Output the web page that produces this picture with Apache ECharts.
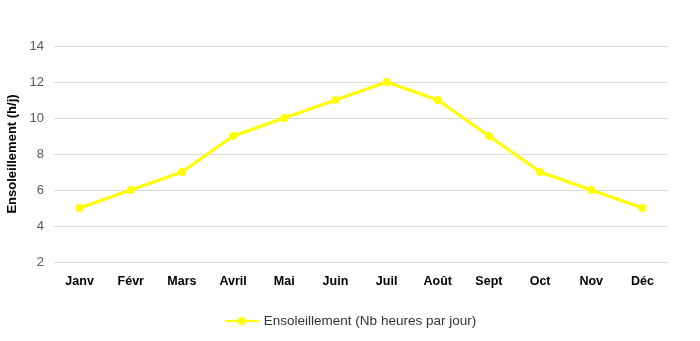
<!DOCTYPE html>
<html><head><meta charset="utf-8">
<script src="https://cdn.jsdelivr.net/npm/echarts@6/dist/echarts.min.js"></script>
<style>html,body{margin:0;padding:0;background:#fff}#c{width:700px;height:341px}</style>
</head><body><div id="c"></div>
<script>
const categories = ['Janv','Févr','Mars','Avril','Mai','Juin','Juil','Août','Sept','Oct','Nov','Déc'];
const values = [5,6,7,9,10,11,12,11,9,7,6,5];
const seriesName = 'Ensoleillement (Nb heures par jour)';
const yAxisName = 'Ensoleillement (h/j)';
const chart = echarts.init(document.getElementById('c'));
chart.setOption({
  animation:false,
  textStyle:{fontFamily:'Liberation Sans'},
  grid:{left:54,right:32,top:46,bottom:79,containLabel:false,outerBoundsMode:'none'},
  legend:{top:309,left:'center',itemWidth:34,itemHeight:10,itemGap:6,
    textStyle:{color:'#333',fontSize:13.5,fontFamily:'Liberation Sans'},
    data:[seriesName]},
  xAxis:{type:'category',data:categories,boundaryGap:true,
    axisLine:{show:false},axisTick:{show:false},
    axisLabel:{color:'#000',fontWeight:'bold',fontSize:12.5,margin:13}},
  yAxis:{type:'value',min:2,max:14,interval:2,name:yAxisName,nameLocation:'middle',nameGap:26,
    nameTextStyle:{color:'#000',fontWeight:'bold',fontSize:13},
    axisLine:{show:false},axisTick:{show:false},
    axisLabel:{color:'#595959',fontSize:13,margin:10},
    splitLine:{lineStyle:{color:'#d9d9d9',width:1}}},
  series:[{name:seriesName,type:'line',data:values,
    lineStyle:{color:'#ffff00',width:3},
    itemStyle:{color:'#ffff00'},
    symbol:'circle',symbolSize:8}]
});
</script></body></html>
